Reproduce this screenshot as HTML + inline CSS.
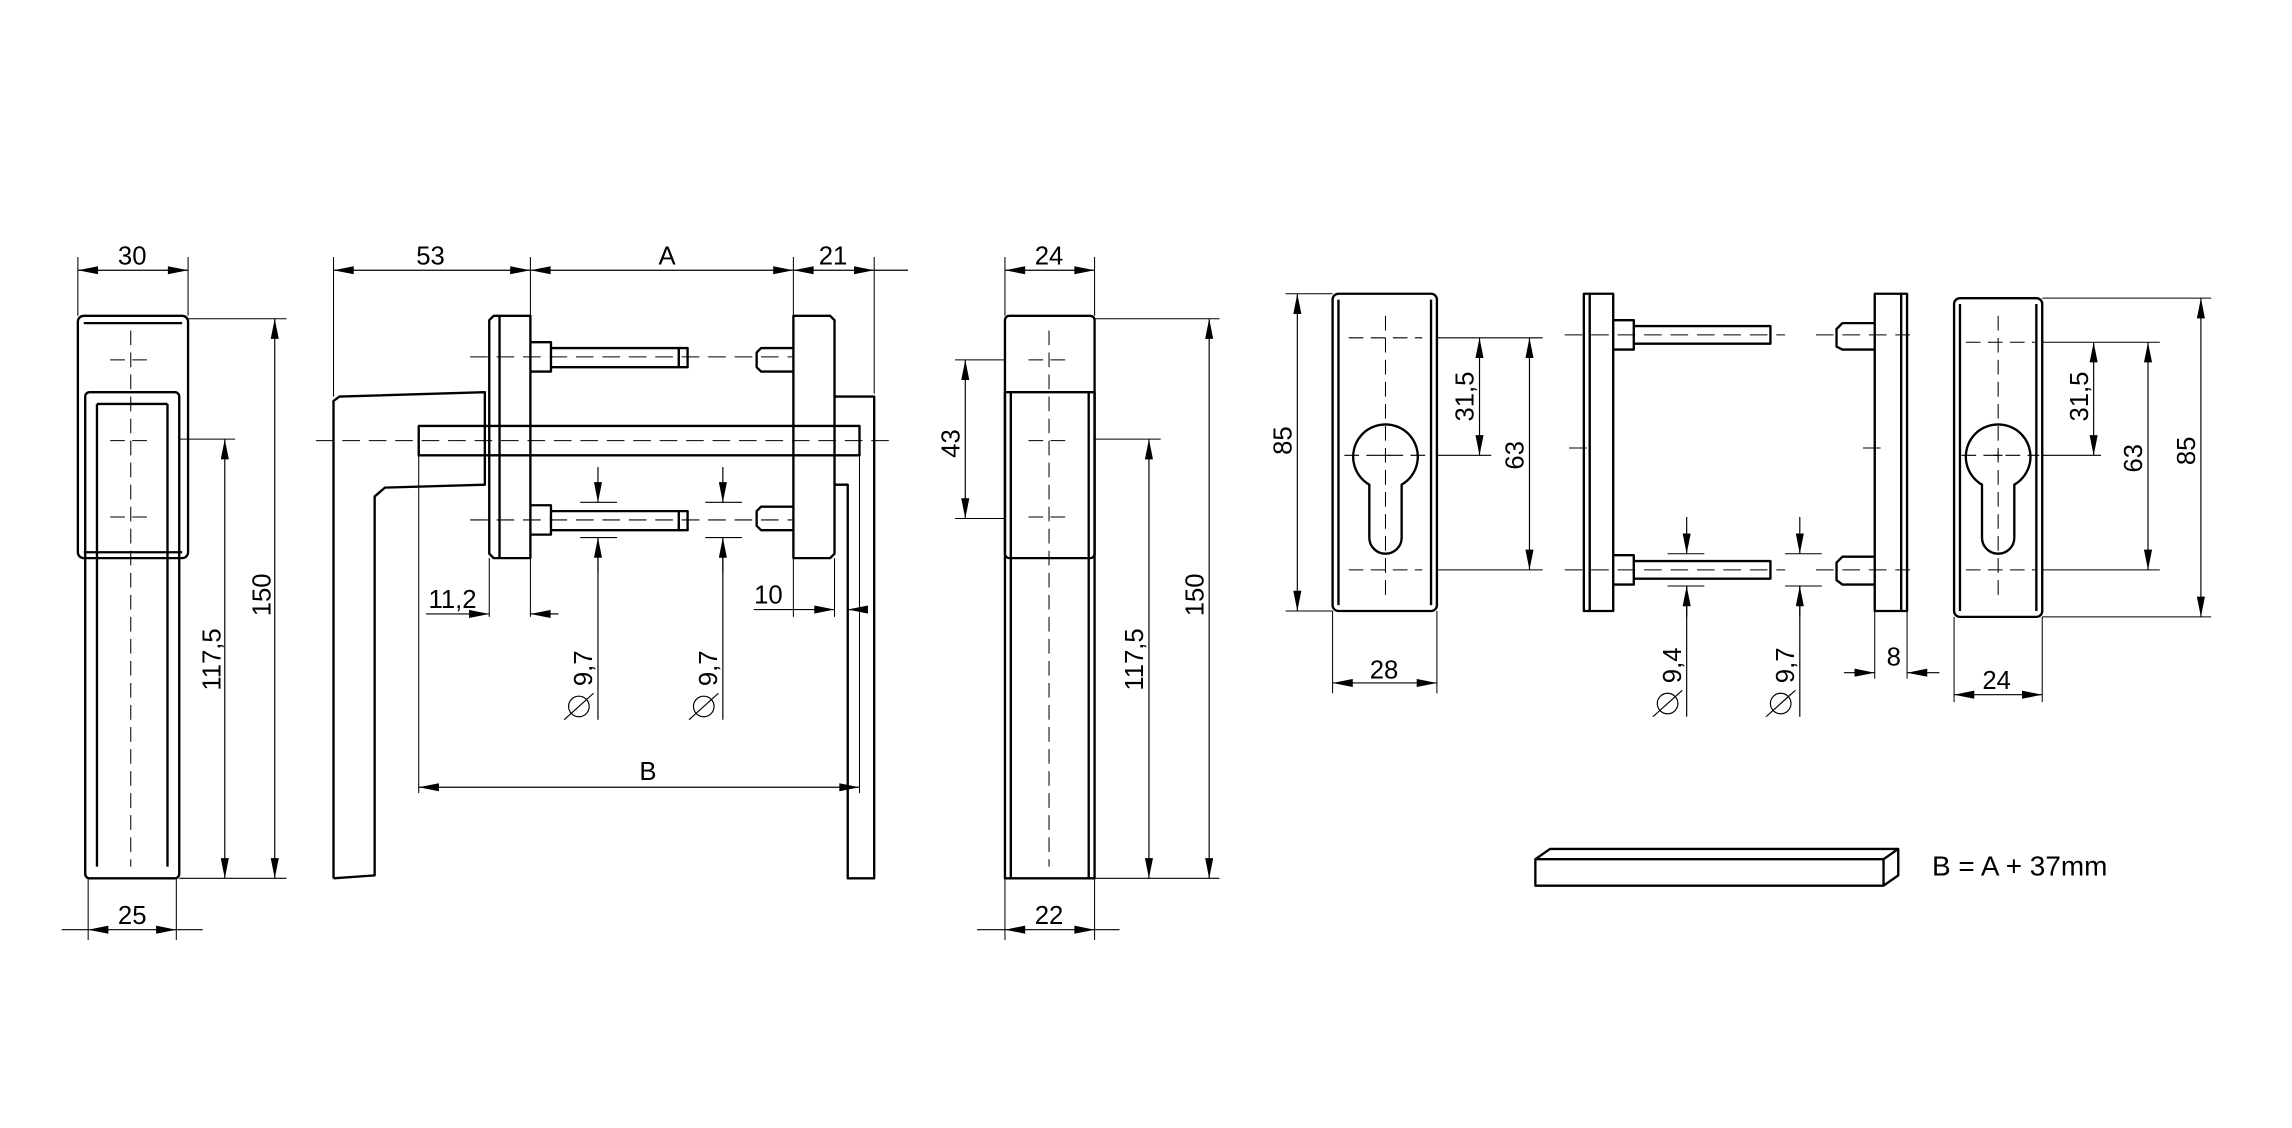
<!DOCTYPE html>
<html><head><meta charset="utf-8"><style>html,body{margin:0;padding:0;background:#fff}svg{display:block}</style></head><body>
<svg width="2292" height="1128" viewBox="0 0 1560 768" preserveAspectRatio="none" xmlns="http://www.w3.org/2000/svg" font-family="Liberation Sans, sans-serif" font-size="17.5">
<defs>
<marker id="a" viewBox="0 0 10 4" refX="10" refY="2" markerWidth="15" markerHeight="5.5" markerUnits="userSpaceOnUse" orient="auto-start-reverse"><path d="M0,0L10,2L0,4z" fill="#000"/></marker>
</defs>
<g fill="none" stroke="#000">
<g stroke-width="0.7">
<path d="M53,175V215M128,175V215M128,217H195M122,299H160M122,598H195M60,598V640M120,598V640"/>
<path d="M89,225V590M75,245H103M75,300H103M75,352H103" stroke-dasharray="10,5"/>
<path d="M227,175V270M361,175V420M540,175V420M595,175V268M333,380V420M568,380V420M577,380V420M285,310V540M585,310V540"/>
<path d="M215,300H605M320,243H540M320,354H540" stroke-dasharray="12,6"/>
<path d="M395,342H420M395,366H420M480,342H505M480,366H505"/>
<path d="M684,175V215M745,175V215M745,217H830M650,245H684M650,353H684M745,299H790M745,598H830M684,598V640M745,598V640"/>
<path d="M714,225V590M700,245H728M700,300H728M700,352H728" stroke-dasharray="10,5"/>
<path d="M875,200H907M875,416H907M978,230H1050M978,310H1015M978,388H1050M907,416V472M978,416V472"/>
<path d="M943,215V405M918,230H968M915,310H975M918,388H968" stroke-dasharray="10,5"/>
<path d="M1065,228H1215M1065,388H1215M1236,228H1300M1236,388H1300M1068,305H1080M1268,305H1280" stroke-dasharray="12,6"/>
<path d="M1135,377H1160M1135,399H1160M1215,377H1240M1215,399H1240M1276,416V462M1298,416V462"/>
<path d="M1390,203H1505M1390,420H1505M1390,233H1470M1390,310H1430M1390,388H1470M1330,420V478M1390,420V478"/>
<path d="M1360,215V405M1338,233H1385M1335,310H1388M1338,388H1385" stroke-dasharray="10,5"/>
</g>
<g stroke-width="0.8" marker-start="url(#a)" marker-end="url(#a)">
<path d="M53,184H128"/><path d="M187,217V598"/><path d="M153,299V598"/><path d="M60,633H120"/>
<path d="M227,184H361"/><path d="M361,184H540"/><path d="M540,184H595"/><path d="M285,536H585"/>
<path d="M684,184H745"/><path d="M684,633H745"/><path d="M657,245V353"/><path d="M782,299V598"/><path d="M823,217V598"/>
<path d="M883,200V416"/><path d="M1007,230V310"/><path d="M1041,230V388"/><path d="M907,465H978"/>
<path d="M1425,233V310"/><path d="M1462,233V388"/><path d="M1498,203V420"/><path d="M1330,473H1390"/>
</g>
<g stroke-width="0.8">
<path d="M595,184H618M42,633H60M120,633H138M665,633H684M745,633H762"/>
<path d="M361,418H380M577,415H590"/>
<path d="M407,366V490M492,366V490M1148,399V488M1225,399V488"/>
</g>
<g stroke-width="0.8" marker-end="url(#a)">
<path d="M290,418H333"/><path d="M380,418H361"/><path d="M513,415H568"/><path d="M590,415H577"/><path d="M1255,458H1276"/><path d="M1320,458H1298"/>
<path d="M407,318V342"/><path d="M407,390V366"/><path d="M492,318V342"/><path d="M492,390V366"/><path d="M1148,352V377"/><path d="M1148,420V399"/><path d="M1225,352V377"/><path d="M1225,420V399"/>
</g>
<g stroke-width="1.6" stroke-linejoin="round">
<rect x="53" y="215" width="75" height="165" rx="4"/>
<path d="M57,220H124M57,376H124"/>
<rect x="58" y="267" width="64" height="331" rx="3"/>
<path d="M66,275V590M114,275V590M66,275H114"/>
<path d="M227,598V273L231,270L330,267V330L262,332L255,338V596L227,598"/>
<rect x="285" y="290" width="300" height="20"/>
<path d="M336,215H361V380H336L333,377V218Z M340,215V380"/>
<path d="M361,233H375V253H361M375,237H468V250H375M462,237V250"/>
<path d="M361,344H375V364H361M375,348H468V361H375M462,348V361"/>
<path d="M540,215H565L568,218V377L565,380H540Z"/>
<path d="M540,237H518L515,240V250L518,253H540M540,345H518L515,348V358L518,361H540"/>
<path d="M568,270H595V598H577V330H568"/>
<rect x="684" y="215" width="61" height="165" rx="3"/>
<path d="M684,267H745V598H684Z M688,267V598M741,267V598"/>
<rect x="907" y="200" width="71" height="216" rx="4"/>
<path d="M911,204V412M974,204V412"/>
<path d="M932,330A22,22 0 1 1 954,330V366A11,11 0 0 1 932,366Z"/>
<path d="M1078,200H1098V416H1078ZM1082,200V416"/>
<path d="M1098,218H1112V238H1098M1112,222H1205V234H1112M1098,378H1112V398H1098M1112,382H1205V394H1112"/>
<path d="M1276,200H1298V416H1276ZM1294,200V416"/>
<path d="M1276,220H1254L1250,224V236L1254,238H1276M1276,379H1254L1250,383V395L1254,398H1276"/>
<rect x="1330" y="203" width="60" height="217" rx="4"/>
<path d="M1334,207V416M1386,207V416"/>
<path d="M1349,330A22,22 0 1 1 1371,330V366A11,11 0 0 1 1349,366Z"/>
<path d="M1045,585L1055,578H1292V596L1282,603H1045ZM1045,585H1282V603M1282,585L1292,578"/>
</g>
<path d="M940,310h6M943,307v6M1357,310h6M1360,307v6" stroke-width="0.7"/>
<g stroke-width="0.8"><circle cx="394" cy="481" r="7"/><path d="M384,490L404,472"/><circle cx="479" cy="481" r="7"/><path d="M469,490L489,472"/>
<circle cx="1135" cy="479" r="7"/><path d="M1125,488L1145,470"/><circle cx="1212" cy="479" r="7"/><path d="M1202,488L1222,470"/></g>
</g>
<g fill="#000">
<text x="90" y="180" text-anchor="middle">30</text>
<text x="90" y="629" text-anchor="middle">25</text>
<text transform="translate(184,405) rotate(-90)" text-anchor="middle">150</text>
<text transform="translate(150,449) rotate(-90)" text-anchor="middle">117,5</text>
<text x="293" y="180" text-anchor="middle">53</text>
<text x="454" y="180" text-anchor="middle">A</text>
<text x="567" y="180" text-anchor="middle">21</text>
<text x="441" y="531" text-anchor="middle">B</text>
<text x="308" y="414" text-anchor="middle">11,2</text>
<text x="523" y="411" text-anchor="middle">10</text>
<text transform="translate(403,455) rotate(-90)" text-anchor="middle">9,7</text>
<text transform="translate(488,455) rotate(-90)" text-anchor="middle">9,7</text>
<text x="714" y="180" text-anchor="middle">24</text>
<text x="714" y="629" text-anchor="middle">22</text>
<text transform="translate(653,302) rotate(-90)" text-anchor="middle">43</text>
<text transform="translate(778,449) rotate(-90)" text-anchor="middle">117,5</text>
<text transform="translate(819,405) rotate(-90)" text-anchor="middle">150</text>
<text transform="translate(879,300) rotate(-90)" text-anchor="middle">85</text>
<text transform="translate(1003,270) rotate(-90)" text-anchor="middle">31,5</text>
<text transform="translate(1037,310) rotate(-90)" text-anchor="middle">63</text>
<text x="942" y="462" text-anchor="middle">28</text>
<text transform="translate(1144,453) rotate(-90)" text-anchor="middle">9,4</text>
<text transform="translate(1221,453) rotate(-90)" text-anchor="middle">9,7</text>
<text x="1289" y="453" text-anchor="middle">8</text>
<text x="1359" y="469" text-anchor="middle">24</text>
<text transform="translate(1421,270) rotate(-90)" text-anchor="middle">31,5</text>
<text transform="translate(1458,312) rotate(-90)" text-anchor="middle">63</text>
<text transform="translate(1494,307) rotate(-90)" text-anchor="middle">85</text>
<text x="1315" y="596" font-size="19">B = A + 37mm</text>
</g>
</svg>
</body></html>
